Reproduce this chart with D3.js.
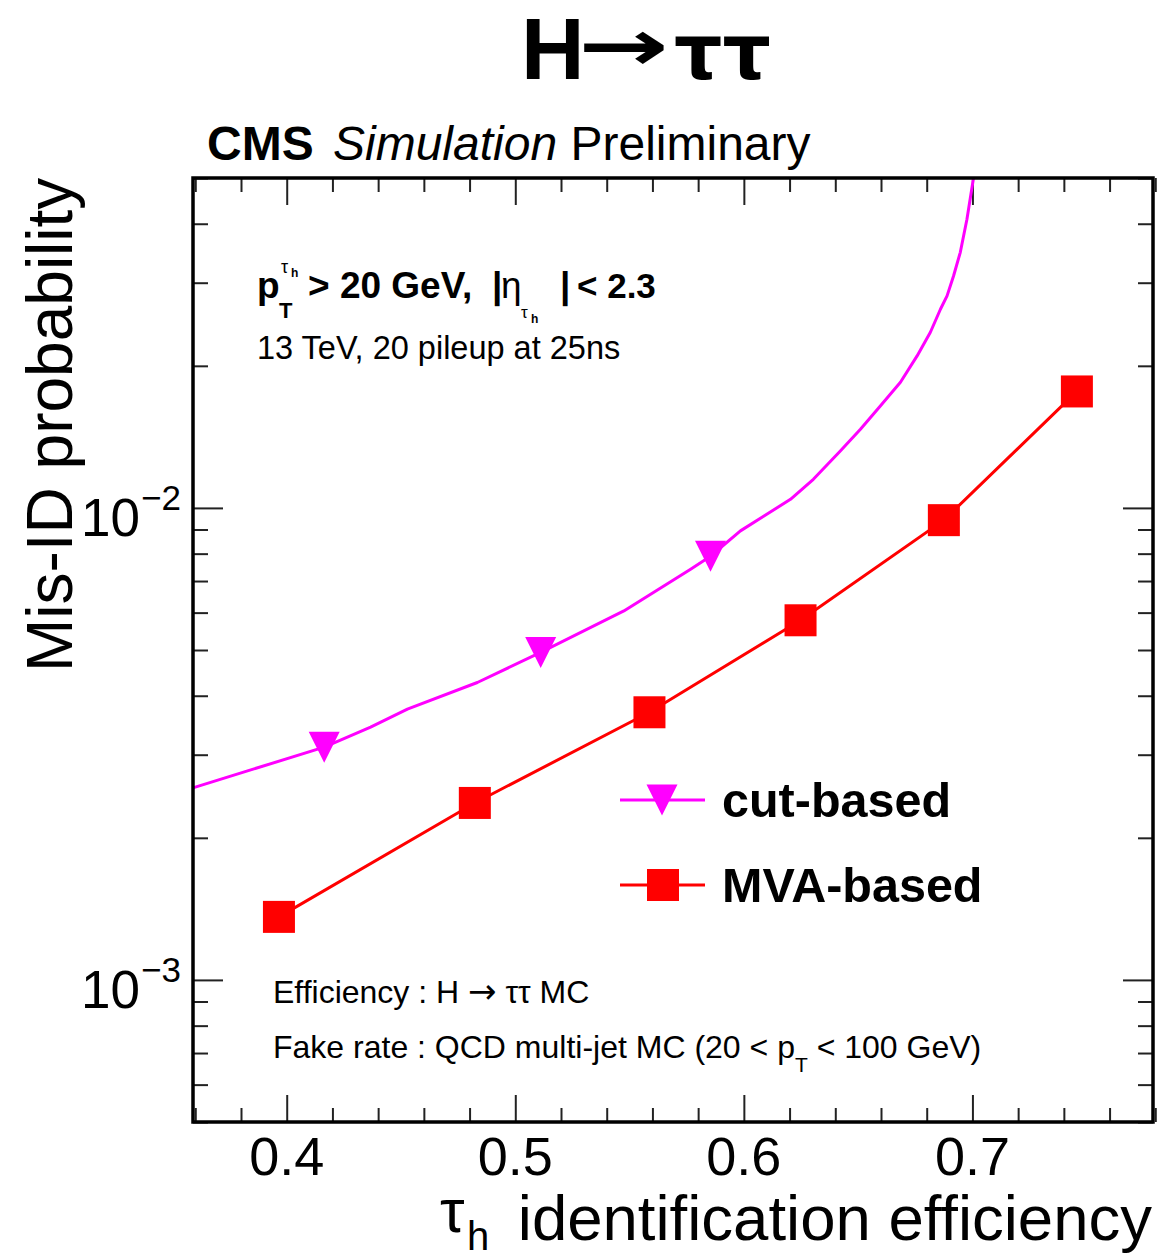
<!DOCTYPE html>
<html>
<head>
<meta charset="utf-8">
<script src="https://cdn.jsdelivr.net/npm/d3@7"></script>
<style>
  html, body { margin: 0; padding: 0; background: #fff; }
  svg { display: block; font-family: "Liberation Sans", Arial, Helvetica, sans-serif; }
</style>
</head>
<body>
<svg id="chart" width="1160" height="1257"></svg>
<script>
// Data
// cut-based: full efficiency / fake-rate curve, plus the working points marked with triangles
const cutCurveEff = [0.3593, 0.4164, 0.4367, 0.4528, 0.4834, 0.5111, 0.5475, 0.5767, 0.5854, 0.5985,
  0.6204, 0.6304, 0.6422, 0.6510, 0.6597, 0.6685, 0.6758, 0.6816, 0.6860, 0.6889, 0.6917, 0.6947, 0.6976, 0.7005, 0.7012];
const cutCurveFake = [2.555e-3, 3.113e-3, 3.431e-3, 3.746e-3, 4.267e-3, 4.941e-3, 6.05e-3, 7.417e-3, 7.9e-3, 8.94e-3,
  1.043e-2, 1.15e-2, 1.32e-2, 1.468e-2, 1.644e-2, 1.846e-2, 2.099e-2, 2.356e-2, 2.636e-2, 2.813e-2, 3.096e-2, 3.48e-2, 4.088e-2, 5.01e-2, 5.4e-2];
const cutPointEff = [0.4164, 0.5111, 0.5854];
const cutPointFake = [3.113e-3, 4.941e-3, 7.9e-3];

// MVA-based working points
const mvaEff = [0.3966, 0.4823, 0.5587, 0.6248, 0.6875, 0.7457];
const mvaFake = [1.360e-3, 2.371e-3, 3.69e-3, 5.78e-3, 9.42e-3, 1.765e-2];

const xMajorTicks = [0.4, 0.5, 0.6, 0.7];
const xTickLabels = ["0.4", "0.5", "0.6", "0.7"];
const yMajorTicks = [1e-3, 1e-2];
const yTickExponents = ["\u22123", "\u22122"];

const legendLabels = ["cut-based", "MVA-based"];

// Layout
const frame = { left: 193, right: 1153, top: 178, bottom: 1122 };
const MAGENTA = "#ff00ff", RED = "#ff0000";

const svg = d3.select("#chart");

const x = d3.scaleLinear().domain([0.359, 0.779]).range([frame.left, frame.right]);
const y = d3.scaleLog().domain([5e-4, 5e-2]).range([frame.bottom, frame.top]);

// minor ticks
const xMinor = d3.range(0.36, 0.781, 0.02).filter(v => !xMajorTicks.some(m => Math.abs(m - v) < 1e-6));
const yMinor = [];
[1e-4, 1e-3, 1e-2].forEach(dec => {
  for (let k = 2; k <= 9; k++) {
    const v = k * dec;
    if (v >= 5e-4 && v <= 5e-2 + 1e-9) yMinor.push(v);
  }
});

const tickStyle = g => {
  g.select(".domain").remove();
  g.selectAll(".tick line").attr("stroke", "#222").attr("stroke-width", 2);
  g.selectAll(".tick text").remove();
};

// bottom / top ticks (pointing inward)
svg.append("g").attr("transform", `translate(0,${frame.bottom})`)
  .call(d3.axisBottom(x).tickValues(xMajorTicks).tickSizeInner(-27).tickFormat(""))
  .call(tickStyle);
svg.append("g").attr("transform", `translate(0,${frame.bottom})`)
  .call(d3.axisBottom(x).tickValues(xMinor).tickSizeInner(-14).tickFormat(""))
  .call(tickStyle);
svg.append("g").attr("transform", `translate(0,${frame.top})`)
  .call(d3.axisTop(x).tickValues(xMajorTicks).tickSizeInner(-27).tickFormat(""))
  .call(tickStyle);
svg.append("g").attr("transform", `translate(0,${frame.top})`)
  .call(d3.axisTop(x).tickValues(xMinor).tickSizeInner(-14).tickFormat(""))
  .call(tickStyle);

// left / right ticks
svg.append("g").attr("transform", `translate(${frame.left},0)`)
  .call(d3.axisLeft(y).tickValues(yMajorTicks).tickSizeInner(-30).tickFormat(""))
  .call(tickStyle);
svg.append("g").attr("transform", `translate(${frame.left},0)`)
  .call(d3.axisLeft(y).tickValues(yMinor).tickSizeInner(-15).tickFormat(""))
  .call(tickStyle);
svg.append("g").attr("transform", `translate(${frame.right},0)`)
  .call(d3.axisRight(y).tickValues(yMajorTicks).tickSizeInner(-30).tickFormat(""))
  .call(tickStyle);
svg.append("g").attr("transform", `translate(${frame.right},0)`)
  .call(d3.axisRight(y).tickValues(yMinor).tickSizeInner(-15).tickFormat(""))
  .call(tickStyle);

// x tick labels
svg.append("g").selectAll("text")
  .data(xMajorTicks).join("text")
  .attr("x", d => x(d))
  .attr("y", frame.bottom + 53)
  .attr("text-anchor", "middle")
  .attr("font-size", 54)
  .text((d, i) => xTickLabels[i]);

// y tick labels: 10^n
const yLab = svg.append("g").selectAll("g")
  .data(yMajorTicks).join("g");
yLab.append("text")
  .attr("x", 140).attr("y", d => y(d) + 28)
  .attr("text-anchor", "end")
  .attr("font-size", 53)
  .text("10");
yLab.append("text")
  .attr("x", 141).attr("y", d => y(d) + 2)
  .attr("font-size", 35)
  .text((d, i) => yTickExponents[i]);

// clip for curves
svg.append("defs").append("clipPath").attr("id", "plotClip")
  .append("rect")
  .attr("x", frame.left).attr("y", frame.top)
  .attr("width", frame.right - frame.left).attr("height", frame.bottom - frame.top);

const line = d3.line().x(d => x(d[0])).y(d => y(d[1]));
const plot = svg.append("g").attr("clip-path", "url(#plotClip)");

// cut-based curve
plot.append("path")
  .datum(cutCurveEff.map((e, i) => [e, cutCurveFake[i]]))
  .attr("d", line)
  .attr("fill", "none").attr("stroke", MAGENTA).attr("stroke-width", 3)
  .attr("stroke-linejoin", "round");

const triPath = (cx, cy, r) => `M${cx - r},${cy - r}L${cx + r},${cy - r}L${cx},${cy + r}Z`;
plot.selectAll(".tri")
  .data(cutPointEff.map((e, i) => [e, cutPointFake[i]])).join("path")
  .attr("class", "tri")
  .attr("d", d => triPath(x(d[0]), y(d[1]), 15.5))
  .attr("fill", MAGENTA);

// MVA-based
plot.append("path")
  .datum(mvaEff.map((e, i) => [e, mvaFake[i]]))
  .attr("d", line)
  .attr("fill", "none").attr("stroke", RED).attr("stroke-width", 3);

plot.selectAll(".sq")
  .data(mvaEff.map((e, i) => [e, mvaFake[i]])).join("rect")
  .attr("class", "sq")
  .attr("x", d => x(d[0]) - 16).attr("y", d => y(d[1]) - 16)
  .attr("width", 32).attr("height", 32)
  .attr("fill", RED);

// frame
svg.append("rect")
  .attr("x", frame.left).attr("y", frame.top)
  .attr("width", frame.right - frame.left).attr("height", frame.bottom - frame.top)
  .attr("fill", "none").attr("stroke", "#000").attr("stroke-width", 3.5);

// Legend
const legend = svg.append("g");
const legRows = [
  { y: 800, color: MAGENTA, marker: "tri" },
  { y: 885, color: RED, marker: "sq" }
];
legRows.forEach((r, i) => {
  legend.append("line")
    .attr("x1", 620).attr("x2", 705).attr("y1", r.y).attr("y2", r.y)
    .attr("stroke", r.color).attr("stroke-width", 3);
  if (r.marker === "tri") {
    legend.append("path").attr("d", triPath(662, r.y, 15.5)).attr("fill", r.color);
  } else {
    legend.append("rect").attr("x", 647).attr("y", r.y - 16).attr("width", 32).attr("height", 32).attr("fill", r.color);
  }
  legend.append("text")
    .attr("x", 722).attr("y", r.y + 17)
    .attr("font-size", 48.5).attr("font-weight", "bold")
    .text(legendLabels[i]);
});

// Title: H -> tau tau
const title = svg.append("g").attr("font-weight", "bold");
title.append("text").attr("x", 521).attr("y", 79).attr("font-size", 88).text("H");
title.append("text")
  .attr("transform", "translate(578,70) scale(1.75,1.15)")
  .attr("font-family", "DejaVu Sans").attr("font-size", 62)
  .text("\u2192");
title.append("text").attr("x", 674).attr("y", 79)
  .attr("font-family", "DejaVu Sans").attr("font-size", 76)
  .text("\u03c4\u03c4");

// CMS Simulation Preliminary
const cms = svg.append("text").attr("x", 207).attr("y", 160).attr("font-size", 48);
cms.append("tspan").attr("font-weight", "bold").text("CMS ");
cms.append("tspan").attr("font-style", "italic").attr("dx", 6).text("Simulation ");
cms.append("tspan").text("Preliminary");

// Axis titles
svg.append("text")
  .attr("transform", "translate(72,672) rotate(-90)")
  .attr("font-size", 64)
  .text("Mis-ID probability");

const xt = svg.append("g");
xt.append("text")
  .attr("x", 1152).attr("y", 1240)
  .attr("text-anchor", "end")
  .attr("font-size", 63.5)
  .text("identification efficiency");
xt.append("text").attr("x", 440).attr("y", 1232).attr("font-size", 62).text("\u03c4");
xt.append("text").attr("x", 467).attr("y", 1250).attr("font-size", 40).text("h");

// Selection text
const sel = svg.append("g").attr("font-weight", "bold");
sel.append("text").attr("x", 257).attr("y", 298).attr("font-size", 37).text("p");
sel.append("text").attr("x", 281).attr("y", 273).attr("font-size", 18).attr("font-weight", "normal").text("\u03c4");
sel.append("text").attr("x", 291).attr("y", 277).attr("font-size", 12).text("h");
sel.append("text").attr("x", 279).attr("y", 318).attr("font-size", 22).text("T");
sel.append("text").attr("x", 308).attr("y", 298).attr("font-size", 37).text("> 20 GeV,");
sel.append("text").attr("x", 492).attr("y", 298).attr("font-size", 37).text("|");
sel.append("text").attr("x", 501).attr("y", 298).attr("font-size", 37).attr("font-weight", "normal").text("\u03b7");
sel.append("text").attr("x", 521).attr("y", 318).attr("font-size", 17).attr("font-weight", "normal").text("\u03c4");
sel.append("text").attr("x", 531).attr("y", 323).attr("font-size", 12).text("h");
sel.append("text").attr("x", 560).attr("y", 298).attr("font-size", 37).text("|");
sel.append("text").attr("x", 577).attr("y", 298).attr("font-size", 35).text("< 2.3");

svg.append("text").attr("x", 257).attr("y", 359).attr("font-size", 32.5)
  .text("13 TeV, 20 pileup at 25ns");

// Bottom notes
const ef = svg.append("text").attr("x", 273).attr("y", 1003).attr("font-size", 32);
ef.append("tspan").text("Efficiency : H ");
ef.append("tspan").attr("font-family", "DejaVu Sans").attr("font-size", 34).text("\u2192");
ef.append("tspan").text(" \u03c4\u03c4 MC");
const fr = svg.append("text").attr("x", 273).attr("y", 1058).attr("font-size", 32);
fr.append("tspan").text("Fake rate : QCD multi-jet MC (20 < p");
fr.append("tspan").attr("font-size", 21).attr("dy", 14).text("T");
fr.append("tspan").attr("dy", -14).text(" < 100 GeV)");
</script>
</body>
</html>
